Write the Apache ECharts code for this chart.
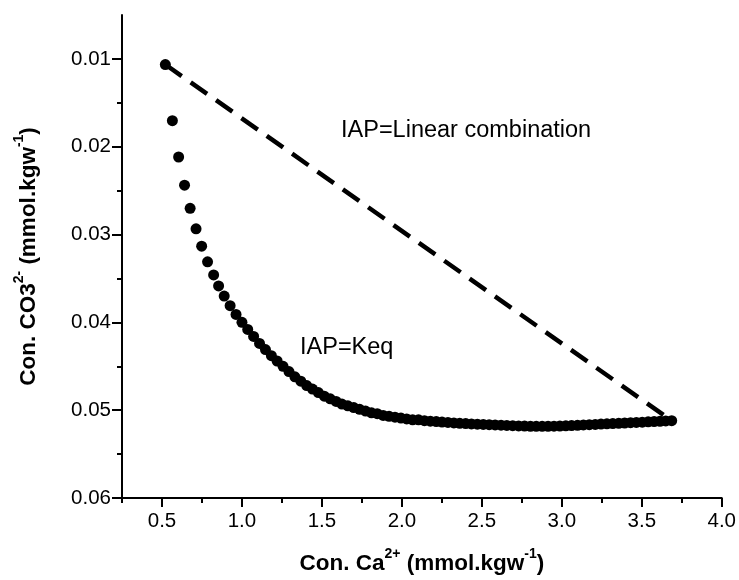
<!DOCTYPE html>
<html>
<head>
<meta charset="utf-8">
<script src="https://cdn.jsdelivr.net/npm/echarts@6/dist/echarts.min.js"></script>
<style>
  html, body { margin: 0; padding: 0; background: #fff; }
  #chart { width: 739px; height: 580px; }
</style>
</head>
<body>
<div id="chart"></div>
<script>
// Ca2+ concentration (mmol/kgw) along the IAP = Keq path
const caValues = [
  0.521, 0.565, 0.604, 0.641, 0.676, 0.713, 0.748, 0.785, 0.823, 0.854,
  0.889, 0.926, 0.963, 1.000, 1.036, 1.073, 1.110, 1.147, 1.184, 1.220,
  1.257, 1.294, 1.331, 1.368, 1.405, 1.441, 1.478, 1.515, 1.552, 1.589,
  1.625, 1.662, 1.699, 1.736, 1.773, 1.810, 1.846, 1.883, 1.920, 1.957,
  1.994, 2.030, 2.067, 2.104, 2.141, 2.178, 2.215, 2.251, 2.288, 2.325,
  2.362, 2.399, 2.435, 2.472, 2.509, 2.546, 2.583, 2.620, 2.656, 2.693,
  2.730, 2.767, 2.804, 2.840, 2.877, 2.914, 2.951, 2.988, 3.025, 3.061,
  3.098, 3.135, 3.172, 3.209, 3.245, 3.282, 3.319, 3.356, 3.393, 3.430,
  3.466, 3.503, 3.540, 3.577, 3.614, 3.650, 3.687
];
// CO3 2- concentration (mmol/kgw) along the IAP = Keq path
const co3Values = [
  0.01064, 0.01704, 0.02117, 0.02438, 0.02701, 0.02935, 0.03133, 0.03310, 0.03460, 0.03585,
  0.03700, 0.03810, 0.03910, 0.04000, 0.04080, 0.04160, 0.04240, 0.04310, 0.04380, 0.04440,
  0.04500, 0.04560, 0.04620, 0.04670, 0.04720, 0.04760, 0.04800, 0.04840, 0.04870, 0.04900,
  0.04930, 0.04950, 0.04970, 0.04990, 0.05010, 0.05030, 0.05040, 0.05060, 0.05070, 0.05080,
  0.05090, 0.05100, 0.05110, 0.05110, 0.05120, 0.05125, 0.05130, 0.05135, 0.05140, 0.05145,
  0.05150, 0.05153, 0.05156, 0.05159, 0.05162, 0.05165, 0.05168, 0.05171, 0.05174, 0.05177,
  0.05179, 0.05181, 0.05183, 0.05184, 0.05184, 0.05183, 0.05182, 0.05180, 0.05178, 0.05175,
  0.05172, 0.05168, 0.05165, 0.05162, 0.05158, 0.05155, 0.05152, 0.05149, 0.05146, 0.05142,
  0.05139, 0.05136, 0.05132, 0.05129, 0.05126, 0.05123, 0.05120
];
// End members of the linear-combination line
const mixCa = [0.521, 3.687];
const mixCo3 = [0.01064, 0.05120];

// Axis ticks and labels
const xMajorTicks = [0.5, 1.0, 1.5, 2.0, 2.5, 3.0, 3.5, 4.0];
const xMinorTicks = [0.25, 0.75, 1.25, 1.75, 2.25, 2.75, 3.25, 3.75];
const yMajorTicks = [0.01, 0.02, 0.03, 0.04, 0.05, 0.06];
const yMinorTicks = [0.015, 0.025, 0.035, 0.045, 0.055];

const labelLinear = 'IAP=Linear combination';
const labelKeq = 'IAP=Keq';

const FONT = '"Liberation Sans", Arial, sans-serif';
const INK = '#000';

const keqPoints = caValues.map((x, i) => [x, co3Values[i]]);
const mixPoints = mixCa.map((x, i) => [x, mixCo3[i]]);

const titleRich = {
  b: { fontFamily: FONT, fontWeight: 'bold', fontSize: 22.5, color: INK, lineHeight: 28, verticalAlign: 'bottom' },
  s: { fontFamily: FONT, fontWeight: 'bold', fontSize: 14, color: INK, lineHeight: 14, verticalAlign: 'top' }
};

const xRange = { min: 0.25, max: 4.0 };
const yRange = { min: 0.005, max: 0.06 };

const chart = echarts.init(document.getElementById('chart'), null, { renderer: 'canvas' });

chart.setOption({
  animation: false,
  backgroundColor: '#fff',
  grid: { left: 122, right: 13, top: 15, bottom: 79, containLabel: false },
  xAxis: [
    {
      type: 'value', min: xRange.min, max: xRange.max, position: 'bottom',
      splitLine: { show: false },
      axisLine: { show: true, onZero: false, lineStyle: { color: INK, width: 2 } },
      axisTick: { show: true, inside: false, length: 9, customValues: xMajorTicks, lineStyle: { color: INK, width: 2 } },
      axisLabel: {
        customValues: xMajorTicks, margin: 13, color: INK, fontFamily: FONT, fontSize: 20.5,
        formatter: v => Number(v).toFixed(1)
      },
      name: '{b|Con. Ca}{s|2+}{b| (mmol.kgw}{s|-1}{b|)}',
      nameLocation: 'middle', nameGap: 49,
      nameTextStyle: { rich: titleRich }
    },
    {
      type: 'value', min: xRange.min, max: xRange.max, position: 'bottom',
      splitLine: { show: false },
      axisLine: { show: false, onZero: false },
      axisTick: { show: true, inside: false, length: 5, customValues: xMinorTicks, lineStyle: { color: INK, width: 2 } },
      axisLabel: { show: false }
    }
  ],
  yAxis: [
    {
      type: 'value', inverse: true, min: yRange.min, max: yRange.max, position: 'left',
      splitLine: { show: false },
      axisLine: { show: true, onZero: false, lineStyle: { color: INK, width: 2 } },
      axisTick: { show: true, inside: false, length: 10, customValues: yMajorTicks, lineStyle: { color: INK, width: 2 } },
      axisLabel: {
        customValues: yMajorTicks, margin: 11, color: INK, fontFamily: FONT, fontSize: 20.5,
        formatter: v => Number(v).toFixed(2)
      },
      name: '{b|Con. CO3}{s|2-}{b| (mmol.kgw}{s|-1}{b|)}',
      nameLocation: 'middle', nameRotate: 90, nameGap: 82,
      nameTextStyle: { rich: titleRich }
    },
    {
      type: 'value', inverse: true, min: yRange.min, max: yRange.max, position: 'left',
      splitLine: { show: false },
      axisLine: { show: false, onZero: false },
      axisTick: { show: true, inside: false, length: 5, customValues: yMinorTicks, lineStyle: { color: INK, width: 2 } },
      axisLabel: { show: false }
    }
  ],
  series: [
    {
      name: labelLinear,
      type: 'line',
      xAxisIndex: 0, yAxisIndex: 0,
      data: mixPoints,
      symbol: 'none',
      lineStyle: { color: INK, width: 4.5, type: [20, 11], cap: 'butt' },
      z: 2
    },
    {
      name: labelKeq,
      type: 'scatter',
      xAxisIndex: 0, yAxisIndex: 0,
      data: keqPoints,
      symbol: 'circle',
      symbolSize: 11,
      itemStyle: { color: INK, opacity: 1 },
      z: 3
    }
  ],
  graphic: [
    {
      type: 'text', left: 341, top: 131 - 12, silent: true,
      style: { text: labelLinear, fill: INK, font: '23.5px ' + FONT }
    },
    {
      type: 'text', left: 300, top: 348 - 12, silent: true,
      style: { text: labelKeq, fill: INK, font: '23.5px ' + FONT }
    }
  ]
});
</script>
</body>
</html>
